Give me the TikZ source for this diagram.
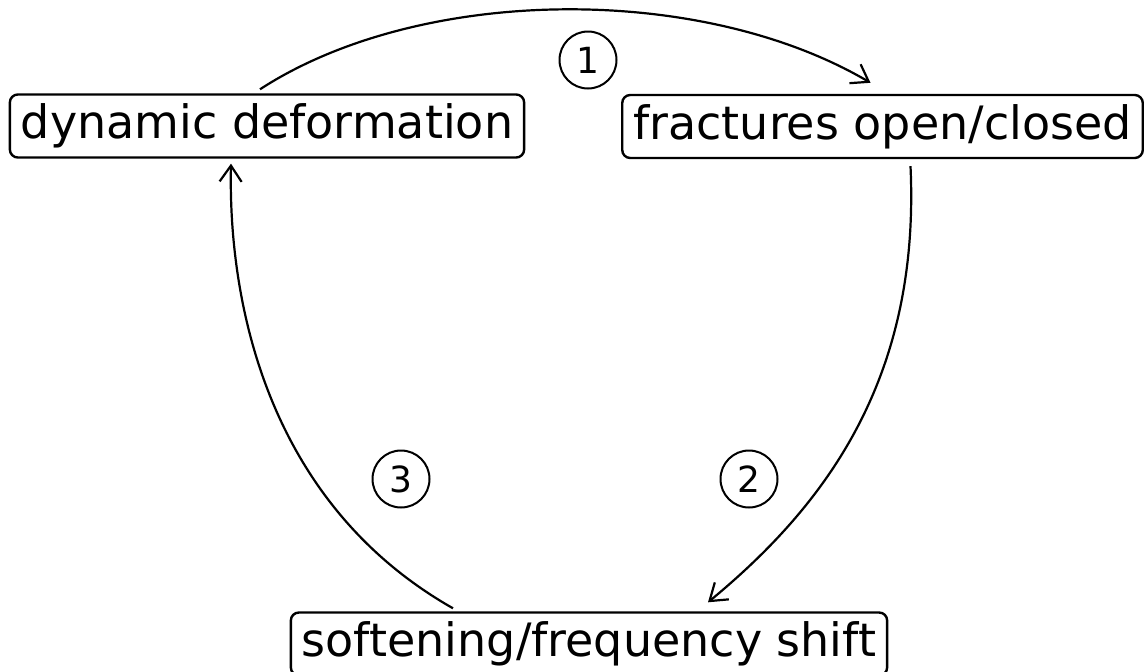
\documentclass[tikz,border=0pt]{standalone}
\usepackage{fontspec}
\setmainfont{DejaVu Sans}
\usetikzlibrary{arrows.meta}
\begin{document}
\begin{tikzpicture}[x=1pt,y=-1pt,
  stepbox/.style={draw,line width=2.4pt,rounded corners=8pt,
    font=\fontsize{46}{50}\selectfont,text height=35pt,text depth=10pt,
    inner xsep=11pt,inner ysep=9pt},
  num/.style={draw,circle,line width=2pt,minimum size=57pt,inner sep=0pt,
    font=\fontsize{36}{40}\selectfont},
  conn/.style={line width=2.2pt,-{Straight Barb[length=16pt,width=22pt]}}]
\useasboundingbox (0,0) rectangle (1144,672);
\node[stepbox] (a) at (267,126) {dynamic deformation};
\node[stepbox] (b) at (882.5,126.5) {fractures open/closed};
\node[stepbox] (c) at (589,644) {softening/frequency shift};
\node[num] (n1) at (588,60) {1};
\node[num] (n2) at (749,479) {2};
\node[num] (n3) at (401,479) {3};
\draw[conn] ([shift={(-7,-4)}]a.north) .. controls +(160,-104) and +(-170,-100) .. ([shift={(-12,-11)}]b.north);
\draw[conn] ([shift={(28,7)}]b.south) .. controls +(10,215) and +(115,-95) .. ([shift={(119,-9)}]c.north);
\draw[conn] ([shift={(-136,-3)}]c.north) .. controls +(-185,-105) and +(-3,140) .. ([shift={(-36,5)}]a.south);
\end{tikzpicture}
\end{document}
